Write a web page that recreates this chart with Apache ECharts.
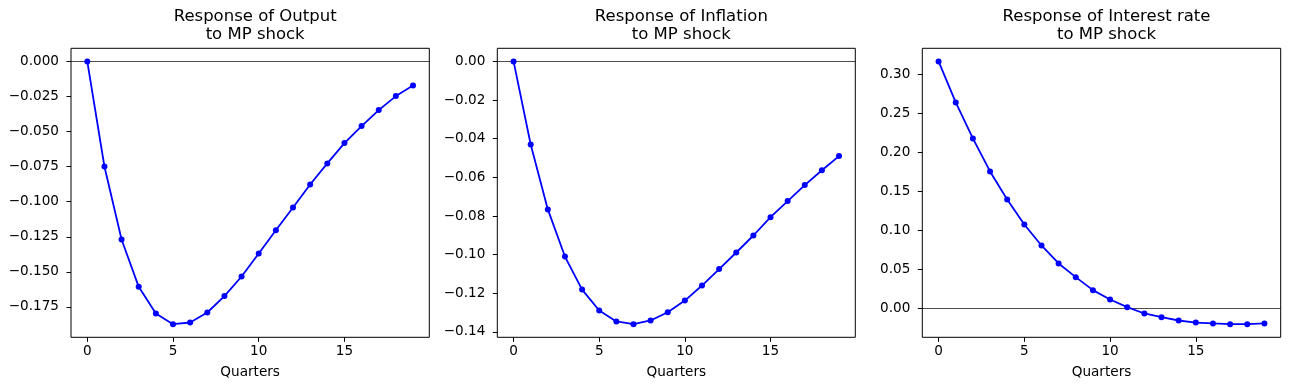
<!DOCTYPE html>
<html>
<head>
<meta charset="utf-8">
<script src="https://cdn.jsdelivr.net/npm/echarts@6/dist/echarts.min.js"></script>
<style>
html,body{margin:0;padding:0;background:#fff;}
#chart{width:1289px;height:390px;}
</style>
</head>
<body>
<div id="chart"></div>
<script>
const quarters = [0,1,2,3,4,5,6,7,8,9,10,11,12,13,14,15,16,17,18,19];
const outputResp = [0,-0.0749,-0.1269,-0.1607,-0.1797,-0.1873,-0.1861,-0.1790,-0.1673,-0.1533,-0.1369,-0.1203,-0.1041,-0.0877,-0.0727,-0.0582,-0.0461,-0.0347,-0.0247,-0.0171];
const inflationResp = [0,-0.0430,-0.0766,-0.1010,-0.1181,-0.1289,-0.1346,-0.1360,-0.1341,-0.1298,-0.1238,-0.1160,-0.1075,-0.0989,-0.0901,-0.0806,-0.0723,-0.0640,-0.0563,-0.0490];
const interestResp = [0.3167,0.2641,0.2180,0.1757,0.1398,0.1077,0.0808,0.0577,0.0402,0.0235,0.0115,0.0017,-0.0064,-0.0111,-0.0154,-0.0180,-0.0192,-0.0201,-0.0201,-0.0192];
const titles = ['Response of Output\nto MP shock','Response of Inflation\nto MP shock','Response of Interest rate\nto MP shock'];
const xTicks = [0,5,10,15];
const outputTicks = [0,-0.025,-0.05,-0.075,-0.1,-0.125,-0.15,-0.175];
const inflationTicks = [0,-0.02,-0.04,-0.06,-0.08,-0.1,-0.12,-0.14];
const interestTicks = [0,0.05,0.1,0.15,0.2,0.25,0.3];
const xLabel = 'Quarters';

const FONT = 'DejaVu Sans';
const series = [outputResp, inflationResp, interestResp];
const yTicks = [outputTicks, inflationTicks, interestTicks];
const decimals = [3,2,2];
const grids = [
  {left:71, right:1289-429.3, top:48.3, bottom:390-337.3},
  {left:497.3, right:1289-855.3, top:48.3, bottom:390-337.3},
  {left:922.3, right:1289-1280.7, top:48.3, bottom:390-337.3}
];
function pad(arr){
  const mn = Math.min(...arr), mx = Math.max(...arr);
  const r = mx - mn;
  return [mn - 0.05*r, mx + 0.05*r];
}
const xMin = quarters[0] - 0.05*(quarters[quarters.length-1]-quarters[0]);
const xMax = quarters[quarters.length-1] + 0.05*(quarters[quarters.length-1]-quarters[0]);
const fmtMinus = (s) => s.replace('-', '\u2212');

const option = {
  animation:false,
  backgroundColor:'#fff',
  title: titles.map((t,i)=>({
    text:t,
    left: grids[i].left + (1289 - grids[i].right - grids[i].left)/2,
    top: 3,
    textAlign:'center',
    textStyle:{fontFamily:FONT,fontSize:16.5,fontWeight:'normal',color:'#000',lineHeight:17.5}
  })),
  grid: grids.map(g=>Object.assign({show:true,borderColor:'#000',borderWidth:1,backgroundColor:'transparent',containLabel:false},g)),
  xAxis: grids.map((g,i)=>({
    type:'value', gridIndex:i, min:xMin, max:xMax,
    name:xLabel, nameLocation:'middle', nameGap:28,
    nameTextStyle:{fontFamily:FONT,fontSize:13.6,color:'#000'},
    axisLine:{show:false,onZero:false},
    axisTick:{show:true,inside:false,length:4.5,lineStyle:{color:'#000',width:1},customValues:xTicks},
    axisLabel:{show:true,margin:7,fontFamily:FONT,fontSize:13.6,color:'#000',customValues:xTicks,formatter:v=>String(v)},
    splitLine:{show:false}
  })),
  yAxis: grids.map((g,i)=>{
    const p = pad(series[i]);
    return {
      type:'value', gridIndex:i, min:p[0], max:p[1],
      axisLine:{show:false,onZero:false},
      axisTick:{show:true,inside:false,length:4.5,lineStyle:{color:'#000',width:1},customValues:yTicks[i]},
      axisLabel:{show:true,margin:12,fontFamily:FONT,fontSize:13.6,color:'#000',customValues:yTicks[i],
        formatter:v=>fmtMinus(Number(v).toFixed(decimals[i]))},
      splitLine:{show:false}
    };
  }),
  series: series.map((arr,i)=>({
    type:'line', xAxisIndex:i, yAxisIndex:i,
    data: quarters.map((q,k)=>[q,arr[k]]),
    symbol:'circle', symbolSize:6, showSymbol:true,
    lineStyle:{color:'#0000ff',width:1.8},
    itemStyle:{color:'#0000ff'},
    z:3,
    markLine:{
      silent:true, symbol:'none', label:{show:false},
      lineStyle:{color:'#000',width:0.7,type:'solid'},
      data:[{yAxis:0}],
      z:1
    }
  }))
};
const chart = echarts.init(document.getElementById('chart'), null, {renderer:'canvas'});
chart.setOption(option);
</script>
</body>
</html>
